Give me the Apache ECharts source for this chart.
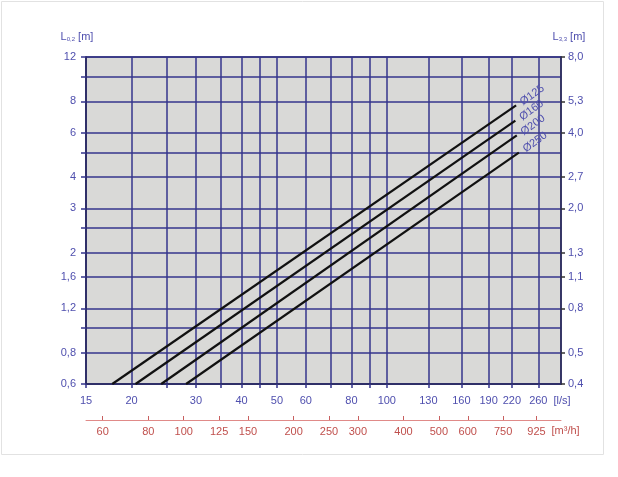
<!DOCTYPE html>
<html>
<head>
<meta charset="utf-8">
<script src="https://cdn.jsdelivr.net/npm/echarts@6/dist/echarts.min.js"></script>
<style>
html,body{margin:0;padding:0;background:#fff;}
#chart{width:618px;height:477px;}
</style>
</head>
<body>
<div id="chart"></div>
<script>
// ---- data ----
const diameters = ['Ø125', 'Ø160', 'Ø200', 'Ø250'];
const flowStart = [17.7, 20.5, 24.1, 28.2];     // l/s at L0,2 = 0.6 m
const flowEnd = [226, 225, 227, 230];           // l/s at line end
const lengthStart = [0.6, 0.6, 0.6, 0.6];       // m
const lengthEnd = [7.7, 6.7, 5.85, 5.0];        // m

// axis ticks / labels
const flowGrid = [15, 20, 25, 30, 35, 40, 45, 50, 60, 70, 80, 90, 100, 130, 160, 190, 220, 260];
const flowLabels = [15, 20, 30, 40, 50, 60, 80, 100, 130, 160, 190, 220, 260];
const volumeLabels = [60, 80, 100, 125, 150, 200, 250, 300, 400, 500, 600, 750, 925];
const lenGrid = [0.6, 0.8, 1, 1.2, 1.6, 2, 2.5, 3, 4, 5, 6, 8, 10, 12];
const lenLabels = [0.6, 0.8, 1.2, 1.6, 2, 3, 4, 6, 8, 12];
const len33Labels = [0.4, 0.5333, 0.8, 1.0667, 1.3333, 2, 2.6667, 4, 5.3333, 8];

const blue = '#4f4fae';
const red = '#c0504d';
const gridCol = '#34348c';
const comma = v => String(v).replace('.', ',');
const font = 'Liberation Sans, Arial, sans-serif';

const series = diameters.map((name, i) => ({
  name: name,
  type: 'line',
  xAxisIndex: 0,
  yAxisIndex: 0,
  symbol: 'circle',
  symbolSize: 0.01,
  showSymbol: true,
  silent: true,
  lineStyle: { color: '#111', width: 2.2 },
  itemStyle: { color: '#111' },
  data: [
    [flowStart[i], lengthStart[i]],
    {
      value: [flowEnd[i], lengthEnd[i]],
      label: {
        show: true,
        formatter: name,
        position: 'right',
        distance: 7,
        rotate: 36,
        offset: [0, -3],
        color: blue,
        fontSize: 11,
        fontFamily: font
      }
    }
  ]
}));

const chart = echarts.init(document.getElementById('chart'), null, { renderer: 'canvas' });

chart.setOption({
  animation: false,
  backgroundColor: '#ffffff',
  graphic: [{
    type: 'rect',
    shape: { x: 1.5, y: 1.5, width: 602, height: 453 },
    style: { fill: 'none', stroke: '#e2e2e2', lineWidth: 1 },
    silent: true,
    z: -10
  }],
  grid: {
    left: 86, top: 57, right: 57, bottom: 93,
    show: true,
    backgroundColor: '#d9d9d7',
    borderColor: '#2b2b5e',
    borderWidth: 1.5,
    outerBoundsMode: 'none'
  },
  xAxis: [{
    type: 'log',
    min: 15, max: 300,
    position: 'bottom',
    name: '[l/s]',
    nameLocation: 'end',
    nameGap: -8,
    nameTextStyle: { color: blue, fontSize: 11, fontFamily: font, align: 'left', verticalAlign: 'top', padding: [11, 0, 0, 0] },
    axisLine: { show: true, lineStyle: { color: '#2b2b5e', width: 1.5 } },
    axisTick: { show: true, inside: false, length: 4, customValues: flowGrid, lineStyle: { color: gridCol, width: 1.5 } },
    axisLabel: { show: true, customValues: flowLabels, margin: 11, color: blue, fontSize: 11, fontFamily: font },
    splitLine: { show: true, lineStyle: { color: gridCol, width: 1.5 } },
    minorTick: { show: false },
    minorSplitLine: { show: false }
  }, {
    type: 'log',
    min: 15 * 3.6, max: 300 * 3.6,
    position: 'bottom',
    offset: 36,
    name: '[m³/h]',
    nameLocation: 'end',
    nameGap: -14,
    nameTextStyle: { color: red, fontSize: 11, fontFamily: font, align: 'left', verticalAlign: 'top', padding: [5, 0, 0, 0] },
    axisLine: { show: true, lineStyle: { color: '#e08a88', width: 1 } },
    axisTick: { show: true, inside: true, length: 4, customValues: volumeLabels, lineStyle: { color: '#c86060', width: 1 } },
    axisLabel: { show: true, customValues: volumeLabels, margin: 6, color: red, fontSize: 11, fontFamily: font },
    splitLine: { show: false }
  }],
  yAxis: [{
    type: 'log',
    min: 0.6, max: 12,
    position: 'left',
    name: '{m|L}{s|0,2}{m| [m]}',
    nameLocation: 'end',
    nameGap: 15,
    nameTextStyle: {
      color: blue, fontSize: 10, fontFamily: font, align: 'center', padding: [0, 18, 0, 0],
      rich: { m: { color: blue, fontSize: 11, fontFamily: font }, s: { color: blue, fontSize: 6, fontFamily: font, padding: [5, 0, 0, 0] } }
    },
    axisLine: { show: true, lineStyle: { color: '#2b2b5e', width: 1.5 } },
    axisTick: { show: true, length: 5, customValues: lenGrid, lineStyle: { color: gridCol, width: 1.5 } },
    axisLabel: { show: true, customValues: lenLabels, margin: 10, color: blue, fontSize: 11, fontFamily: font, formatter: v => comma(v) },
    splitLine: { show: true, lineStyle: { color: gridCol, width: 1.5 } }
  }, {
    type: 'log',
    min: 0.4, max: 8,
    position: 'right',
    name: '{m|L}{s|3,3}{m| [m]}',
    nameLocation: 'end',
    nameGap: 15,
    nameTextStyle: {
      color: blue, fontSize: 10, fontFamily: font, align: 'center', padding: [0, 0, 0, 16],
      rich: { m: { color: blue, fontSize: 11, fontFamily: font }, s: { color: blue, fontSize: 6, fontFamily: font, padding: [5, 0, 0, 0] } }
    },
    axisLine: { show: true, lineStyle: { color: '#2b2b5e', width: 1.5 } },
    axisTick: { show: true, length: 4, customValues: len33Labels, lineStyle: { color: '#333', width: 1.5 } },
    axisLabel: { show: true, customValues: len33Labels, margin: 7, color: blue, fontSize: 11, fontFamily: font, formatter: v => comma(v.toFixed(1)) },
    splitLine: { show: false }
  }],
  series: series
});
</script>
</body>
</html>
